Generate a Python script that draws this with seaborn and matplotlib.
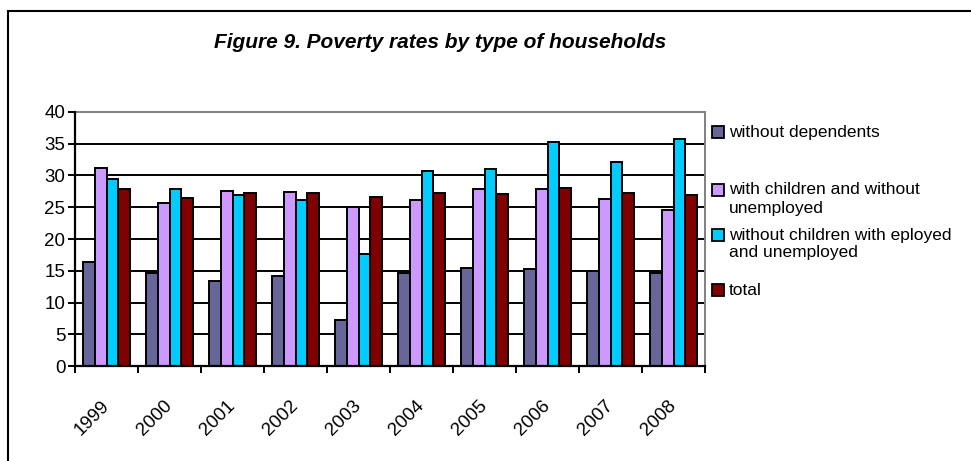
import numpy as np
import pandas as pd
import matplotlib
matplotlib.use("Agg")
import matplotlib.pyplot as plt
import matplotlib.patches as mpatches
import seaborn as sns

# Poverty rates (%) by household type, 1999-2008
years = ["1999", "2000", "2001", "2002", "2003", "2004", "2005", "2006", "2007", "2008"]
without_dependents = [16.4, 14.7, 13.4, 14.2, 7.3, 14.7, 15.4, 15.2, 14.9, 14.7]
children_no_unemployed = [31.2, 25.6, 27.5, 27.4, 25.0, 26.2, 27.9, 27.8, 26.3, 24.5]
no_children_emp_unemp = [29.4, 27.9, 26.9, 26.1, 17.7, 30.7, 31.1, 35.3, 32.1, 35.8]
total = [27.8, 26.4, 27.2, 27.2, 26.6, 27.3, 27.1, 28.1, 27.3, 27.0]

series_names = [
    "without dependents",
    "with children and without\nunemployed",
    "without children with eployed\nand unemployed",
    "total",
]
series_colors = ["#666699", "#CC99FF", "#00CCFF", "#800000"]
y_ticks = [0, 5, 10, 15, 20, 25, 30, 35, 40]

df = pd.DataFrame({
    "year": years * 4,
    "series": np.repeat(series_names, len(years)),
    "value": without_dependents + children_no_unemployed + no_children_emp_unemp + total,
})

sns.set_theme(style="white")
plt.rcParams["font.family"] = ["Liberation Sans", "DejaVu Sans"]
plt.rcParams["text.color"] = "black"
plt.rcParams["xtick.color"] = "black"
plt.rcParams["ytick.color"] = "black"
plt.rcParams["xtick.labelcolor"] = "black"
plt.rcParams["ytick.labelcolor"] = "black"

W, H = 971, 461
fig = plt.figure(figsize=(W / 100, H / 100), dpi=100)
fig.patch.set_facecolor("white")


def fx(px):
    return px / W


def fy(py):
    return 1 - py / H


ax = fig.add_axes([fx(75), fy(366), fx(705) - fx(75), fy(112) - fy(366)])

sns.barplot(
    data=df, x="year", y="value", hue="series",
    hue_order=series_names, order=years,
    palette=series_colors, width=0.75, gap=0,
    edgecolor="black", linewidth=1.4, saturation=1,
    legend=False, ax=ax, zorder=3,
)

ax.set_ylim(0, 40)
ax.set_xlim(-0.5, len(years) - 0.5)
ax.set_yticks(y_ticks)
ax.set_yticklabels([str(t) for t in y_ticks], fontsize=13.5, color="black")
ax.set_xlabel("")
ax.set_ylabel("")

# horizontal gridlines
for t in y_ticks[1:-1]:
    ax.axhline(t, color="black", lw=1.4, zorder=1)

# plot frame: grey top/right, black left/bottom
for side in ["top", "right"]:
    ax.spines[side].set_visible(True)
    ax.spines[side].set_color("#808080")
    ax.spines[side].set_linewidth(1.4)
for side in ["left", "bottom"]:
    ax.spines[side].set_color("black")
    ax.spines[side].set_linewidth(1.6)
    ax.spines[side].set_zorder(4)

# ticks
ax.tick_params(axis="y", which="major", direction="out", length=5, width=1.4,
               color="black", pad=2, left=True, labelsize=13.5)
ax.set_xticks(np.arange(len(years)))
ax.set_xticks(np.arange(-0.5, len(years), 1.0), minor=True)
ax.tick_params(axis="x", which="major", length=0, pad=27)
ax.tick_params(axis="x", which="minor", direction="out", length=5, width=1.4,
               color="black", bottom=True)
ax.set_xticklabels(years, fontsize=13.5, rotation=45, ha="right",
                   rotation_mode="anchor", va="center", color="black")

# title
fig.text(fx(440), fy(42), "Figure 9. Poverty rates by type of households",
         fontsize=15, fontweight="bold", fontstyle="italic", color="black",
         family=["Liberation Sans Narrow", "Liberation Sans", "DejaVu Sans"],
         ha="center", va="center")

# legend
legend_rows = [132, 190, 235, 290]
line_step = 18
for name, color, yrow in zip(series_names, series_colors, legend_rows):
    fig.patches.append(mpatches.Rectangle(
        (fx(712), fy(yrow + 6)), fx(12), 12 / H,
        transform=fig.transFigure, facecolor=color,
        edgecolor="black", lw=1.3))
    for i, line in enumerate(name.split("\n")):
        fig.text(fx(729), fy(yrow + i * line_step), line,
                 fontsize=12.5, ha="left", va="center", color="black")

# outer frame of the chart
fig.patches.append(mpatches.Rectangle(
    (fx(8), -0.2), 1.2, fy(11) + 0.2, transform=fig.transFigure,
    fill=False, edgecolor="black", lw=1.5))

fig.savefig("out.png", dpi=100)
